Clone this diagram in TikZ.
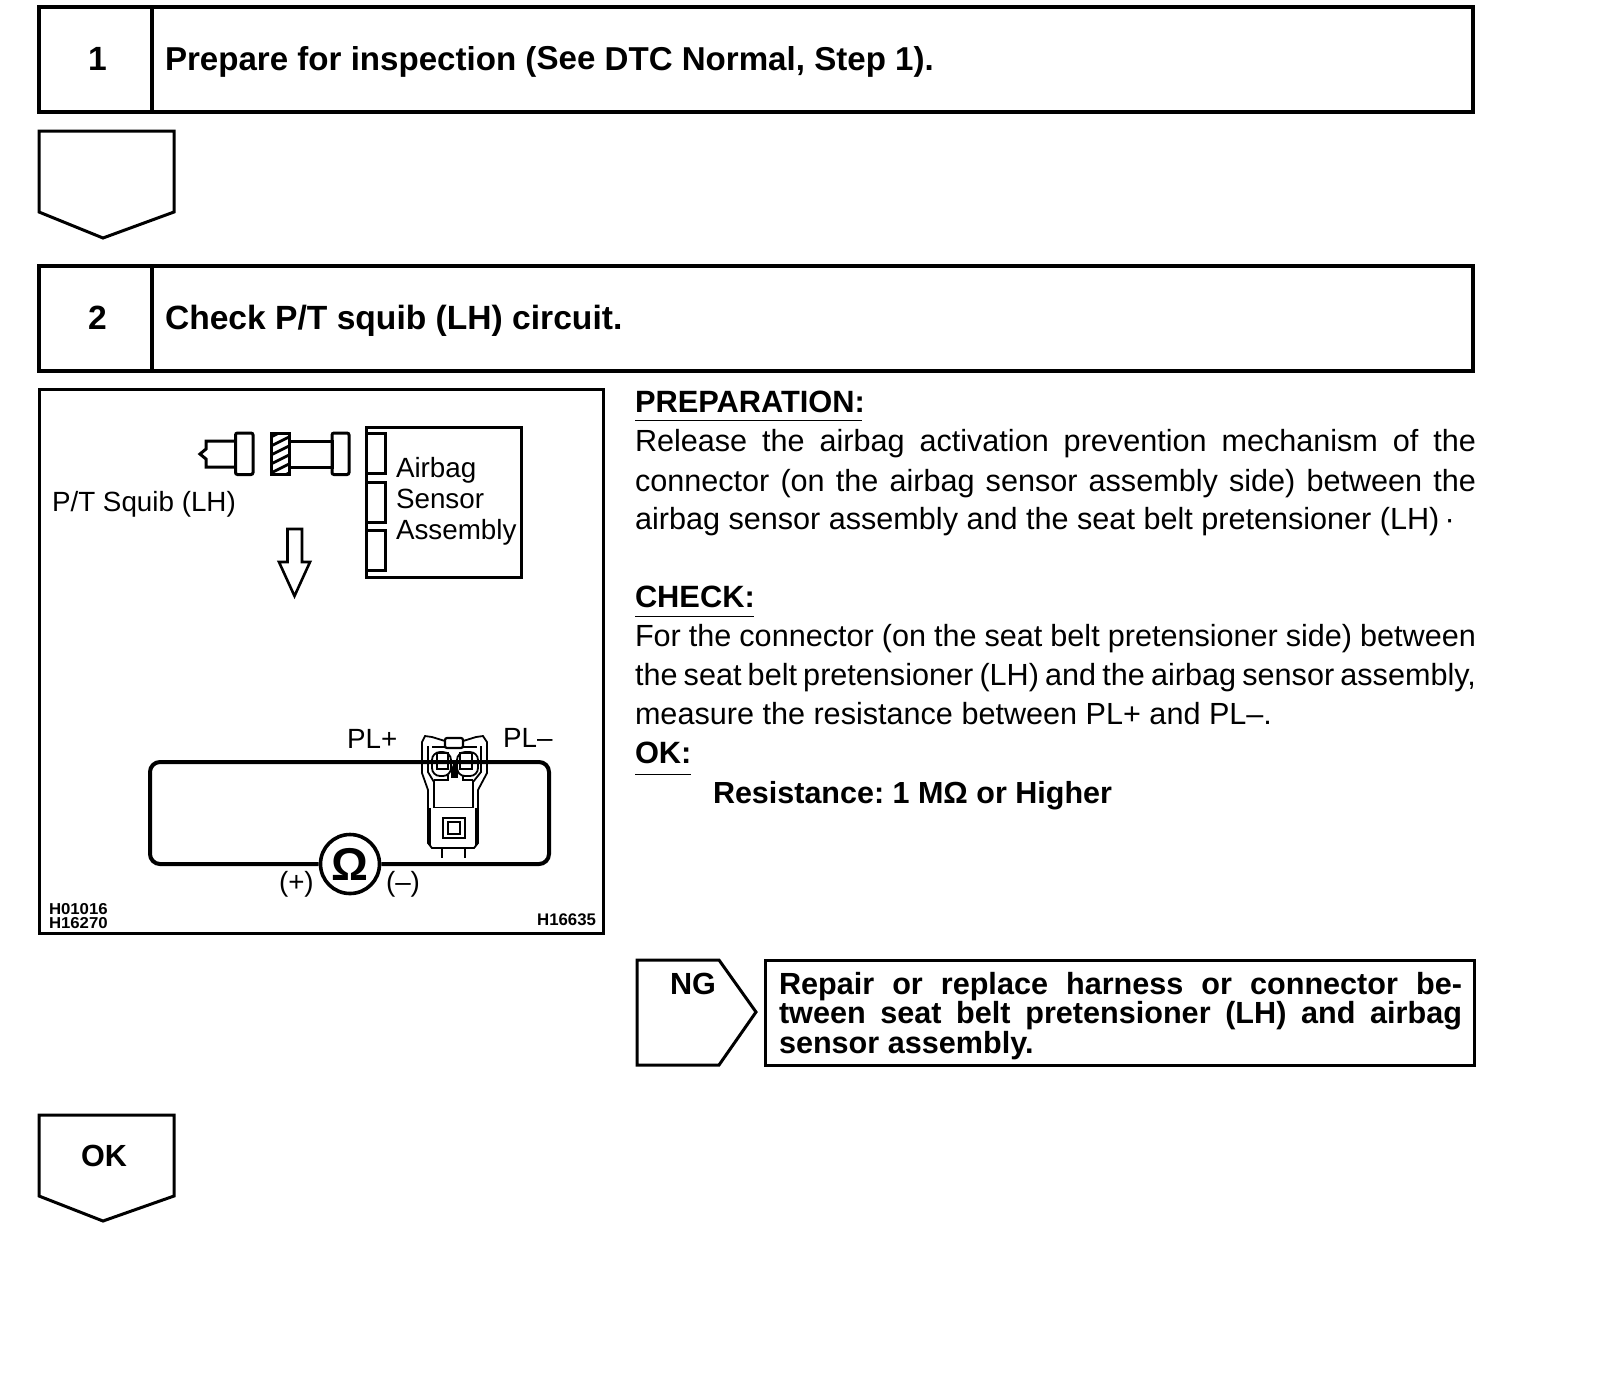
\documentclass[tikz,border=0pt]{standalone}
\usepackage{fontspec}
\setmainfont{Liberation Sans}
\newcommand{\fsz}[1]{\fontsize{#1}{#1}\selectfont}
\newcommand{\just}[1]{\makebox[420.5pt][s]{#1}}
\newcommand{\justb}[1]{\makebox[341.5pt][s]{#1}}
\frenchspacing
\tikzset{
  x=0.5pt,y=-0.5pt,
  ink/.style={draw=black,line width=1.5pt,line join=miter},
  frame/.style={ink,line width=1.6pt},
  thin ink/.style={draw=black,line width=0.9pt},
  txt/.style={inner sep=0pt,outer sep=0pt,anchor=base west,text=black},
  head/.style={txt,font=\fsz{16.8}\bfseries},
  body/.style={txt,font=\fsz{15.3}},
  bold body/.style={txt,font=\fsz{15.25}\bfseries},
  heading/.style={txt,font=\fsz{15.4}\bfseries},
  label/.style={txt,font=\fsz{13.9}},
  code/.style={txt,font=\fsz{8.4}\bfseries},
  repair/.style={txt,font=\fsz{15.3}\bfseries},
}
\begin{document}
\begin{tikzpicture}
\useasboundingbox[fill=white] (0,0) rectangle (1600,1378);
% step 1
\draw[frame] (39,7) rectangle (1473,112);
\draw[frame] (152,7) -- (152,112);
\node[head] (n1) at (88,70.5) {1};
\node[head,font=\fsz{16.55}\bfseries] (t1) at (165,70.5) {Prepare for inspection (\raisebox{0.7pt}{See} DTC Normal, Step 1).};
% empty flag
\draw[ink] (39,131) -- (174,131) -- (174,212) -- (103,238) -- (39,212) -- cycle;
% step 2
\draw[frame] (39,266) rectangle (1473,371);
\draw[frame] (152,266) -- (152,371);
\node[head] (n2) at (88,329.6) {2};
\node[head] (t2) at (165,329.6) {Check P/T squib (LH) circuit.};
% illustration frame
\draw[ink] (39,389) rectangle (603,933);
% plug
\draw[ink] (235,441) -- (206,441) -- (206,449) -- (200,454) -- (206,459) -- (206,467) -- (235,467);
\draw[ink,rounded corners=1pt] (235.5,433) rectangle (253,474.5);
% hatched flange and cylinder
\begin{scope}
\clip (271,433) rectangle (289,474.5);
\foreach \d in {0,9,...,54} {\draw[black,line width=1.4pt] (265,440+\d) -- (295,425+\d);}
\end{scope}
\draw[ink] (271,433) rectangle (289,474.5);
\draw[ink] (289,441) rectangle (332,467);
\draw[ink,rounded corners=1pt] (332,433) rectangle (349,474.5);
% sensor assembly
\draw[ink] (366,427) rectangle (521,577);
\draw[ink] (366,433) rectangle (385,473);
\draw[ink] (366,482) rectangle (385,522);
\draw[ink] (366,530) rectangle (385,570.5);
\node[label] (a1) at (396,477.5) {Airbag};
\node[label] (a2) at (396,508) {Sensor};
\node[label] (a3) at (396,539) {Assembly};
\node[label] (sq) at (52,511.5) {P/T Squib (LH)};
% big arrow
\draw[ink,line width=1.3pt] (287.5,529) -- (302,529) -- (302,562) -- (310,562) -- (294.5,596) -- (279,562) -- (287.5,562) -- cycle;
% meter circuit
\node[circle,draw=black,line width=1.8pt,minimum size=29.5pt,inner sep=0pt,font=\fsz{23}\bfseries] (om) at (350,864) {Ω};
\draw[draw=black,line width=2pt,rounded corners=5pt] (om.east) -- (549,864) -- (549,762) -- (150,762) -- (150,864) -- (om.west);
\node[label] (pp) at (279,891) {(+)};
\node[label] (pm) at (386,891) {(–)};
\node[label] (plp) at (347,748) {PL+};
\node[label] (plm) at (503,747) {PL–};
\node[code,font=\fsz{7.9}\bfseries\addfontfeature{FakeStretch=1.06}] (c1) at (49,914) {H01016};
\node[code,font=\fsz{7.9}\bfseries\addfontfeature{FakeStretch=1.06}] (c2) at (49,928) {H16270};
\node[code,anchor=base east] (c3) at (596,925) {H16635};
% connector
\begin{scope}[thin ink]
\draw (445,741) -- (432,737) -- (425,736) -- (422,742) -- (422,773) -- (428,790) -- (428,843) -- (432,848) -- (474,848) -- (478,843) -- (478,790) -- (487,773) -- (487,742) -- (483,736) -- (476,737) -- (463,741);
\draw[line width=1.1pt,rounded corners=1pt] (445,738) rectangle (463,748);
\draw (432,747) -- (445,747) (463,747) -- (477,747);
\draw (428,746) -- (428,772) -- (434,782) (481,746) -- (481,772) -- (473,782);
\draw (434,780) -- (448,780) -- (448,775) (473,780) -- (463,780) -- (463,775);
\draw (434,780) -- (434,807.5) -- (473,807.5) -- (473,780);
\draw[line width=1.4pt] (430,808) -- (430,846) (476,808) -- (476,846);
\draw[line width=1.2pt] (443,818) rectangle (465,838);
\draw (448,822) rectangle (460,834);
\draw (442,848) -- (442,858) (465,848) -- (465,858);
\draw[rounded corners=4pt] (432,752) rectangle (451,776);
\draw[rounded corners=4pt] (457,752) rectangle (478,776);
\draw[line width=1.2pt] (437,753) rectangle (448,769);
\draw[line width=1.2pt] (460,753) rectangle (472,769);
\fill (450,772) -- (454.5,761) -- (459,772) -- cycle;
\fill (451,772) rectangle (458,778);
\end{scope}
\draw[draw=black,line width=2pt] (415,762) -- (495,762);
% text column
\node[heading] (h1) at (635,412) {PREPARATION:};
\draw[thin ink] (635,420.5) -- (862,420.5);
\node[body] (l1) at (635,451) {\just{Release the airbag activation prevention mechanism of the}};
\node[body] (l2) at (635,491) {\just{connector (on the airbag sensor assembly side) between the}};
\node[body] (l3) at (635,529.5) {airbag sensor assembly and the seat belt pretensioner (LH)\,·};
\node[heading] (h2) at (635,607) {CHECK:};
\draw[thin ink] (635,616.5) -- (754,616.5);
\node[body] (l4) at (635,646) {\just{For the connector (on the seat belt pretensioner side) between}};
\node[body] (l5) at (635,685) {\just{the seat belt pretensioner (LH) and the airbag sensor assembly,}};
\node[body] (l6) at (635,724.5) {measure the resistance between PL+ and PL–.};
\node[heading] (h3) at (635,763.5) {OK:};
\draw[thin ink] (635,774.5) -- (691,774.5);
\node[bold body] (l7) at (713,803) {Resistance: 1 MΩ or Higher};
% NG
\draw[ink] (637,960) -- (719,960) -- (756,1012) -- (719,1065) -- (637,1065) -- cycle;
\node[repair] (ng) at (670,994) {NG};
\draw[ink] (765,960) rectangle (1474,1065);
\node[repair] (r1) at (779,994) {\justb{Repair or replace harness or connector be-}};
\node[repair] (r2) at (779,1023.5) {\justb{tween seat belt pretensioner (LH) and airbag}};
\node[repair] (r3) at (779,1053) {sensor assembly.};
% OK flag
\draw[ink] (39,1115) -- (174,1115) -- (174,1196) -- (103,1221) -- (39,1196) -- cycle;
\node[repair,anchor=base] (ok) at (104,1166) {OK};
\end{tikzpicture}
\end{document}
